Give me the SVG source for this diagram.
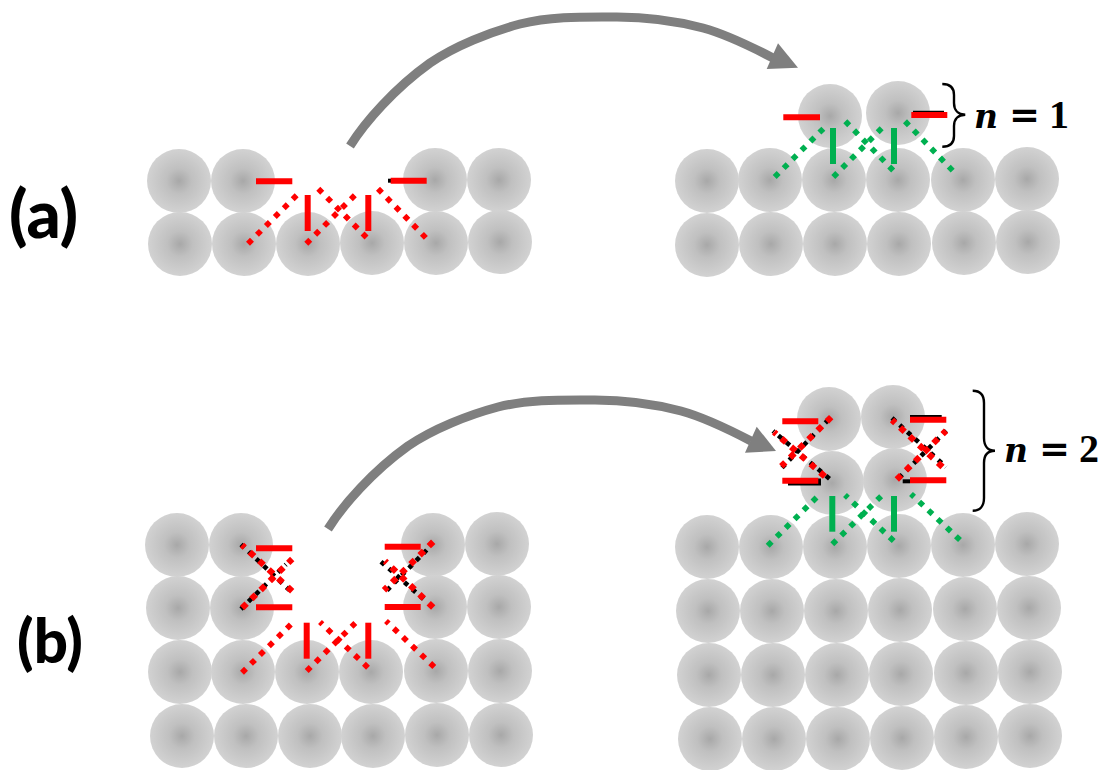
<svg xmlns="http://www.w3.org/2000/svg" width="1105" height="770" viewBox="0 0 1105 770">
  <style>
    .atom { fill: url(#atomShade); }
    .bar-r { stroke: #ff0000; stroke-width: 6; fill: none; }
    .bar-g { stroke: #00b050; stroke-width: 6; fill: none; }
    .bar-k { stroke: #000000; fill: none; }
    .dot-r { stroke: #ff0000; stroke-width: 5.6; stroke-dasharray: 5.6 7; fill: none; }
    .dot-g { stroke: #00b050; stroke-width: 5.6; stroke-dasharray: 5.6 7; fill: none; }
    .dot-x { stroke: #ff0000; stroke-width: 6.2; stroke-dasharray: 6.2 6.7; fill: none; }
    .dot-k { stroke: #000000; stroke-width: 4.6; stroke-dasharray: 4.6 5.8; fill: none; }
    .flow { stroke: #7f7f7f; stroke-width: 9; fill: none; }
    .head { fill: #7f7f7f; }
    .brace { stroke: #000000; stroke-width: 2.4; fill: none; }
    .tag { font-family: "Lato", "Liberation Sans", sans-serif; font-weight: 900; fill: #000000; }
    .math { font-family: "Liberation Serif", "DejaVu Serif", serif; font-weight: 700; font-size: 40px; fill: #000000; }
    .math-n { font-family: "DejaVu Serif", "Liberation Serif", serif; font-style: italic; font-size: 33px; }
    .math-eq { font-family: "DejaVu Serif", "Liberation Serif", serif; font-size: 37px; }
  </style>
  <defs>
    <radialGradient id="atomShade" cx="0.5" cy="0.5" r="0.5">
      <stop offset="0" stop-color="#a8a8a8"/>
      <stop offset="0.4" stop-color="#c0c0c0"/>
      <stop offset="1" stop-color="#d2d2d2"/>
    </radialGradient>
    <path id="arc" class="flow" d="M350 146 C365 122 395 88 430 63 C455 46 490 32 520 24 C552 16 585 17 617 17 C650 17 680 22 703 28 C725 34 750 46 773 58"/>
  </defs>

  <!-- Panel (a), surface with a gap -->
  <g id="surface-a-left">
    <circle class="atom" cx="179" cy="181" r="32"/>
    <circle class="atom" cx="243" cy="181" r="32"/>
    <circle class="atom" cx="435" cy="180" r="32"/>
    <circle class="atom" cx="499" cy="180" r="32"/>
    <circle class="atom" cx="180" cy="244" r="32"/>
    <circle class="atom" cx="244" cy="244" r="32"/>
    <circle class="atom" cx="308" cy="244" r="32"/>
    <circle class="atom" cx="372" cy="243" r="32"/>
    <circle class="atom" cx="436" cy="243" r="32"/>
    <circle class="atom" cx="500" cy="242" r="32"/>
  </g>
  <g id="bonds-a-left">
    <line class="dot-r" x1="248" y1="243.7" x2="297" y2="195"/>
    <line class="dot-r" x1="306.3" y1="243.7" x2="355" y2="195"/>
    <line class="dot-r" x1="318.3" y1="188.7" x2="367" y2="238"/>
    <line class="dot-r" x1="378" y1="188.7" x2="426" y2="238"/>
    <line class="bar-r" x1="256" y1="181.3" x2="292.3" y2="181.3"/>
    <line class="bar-k" stroke-width="4" x1="388" y1="180.7" x2="391" y2="180.7"/>
    <line class="bar-r" x1="390.7" y1="180.7" x2="426.7" y2="180.7"/>
    <line class="bar-r" x1="307.7" y1="195" x2="307.7" y2="231"/>
    <line class="bar-r" x1="368.3" y1="195" x2="368.3" y2="231"/>
  </g>

  <!-- Panel (a), filled layer -->
  <g id="surface-a-right">
    <circle class="atom" cx="830" cy="116" r="32"/>
    <circle class="atom" cx="898" cy="113" r="32"/>
    <circle class="atom" cx="707" cy="181" r="32"/>
    <circle class="atom" cx="770" cy="180" r="32"/>
    <circle class="atom" cx="834" cy="180" r="32"/>
    <circle class="atom" cx="898" cy="180" r="32"/>
    <circle class="atom" cx="963" cy="180" r="32"/>
    <circle class="atom" cx="1027" cy="179" r="32"/>
    <circle class="atom" cx="707" cy="245" r="32"/>
    <circle class="atom" cx="771" cy="244" r="32"/>
    <circle class="atom" cx="835" cy="244" r="32"/>
    <circle class="atom" cx="899" cy="244" r="32"/>
    <circle class="atom" cx="964" cy="243" r="32"/>
    <circle class="atom" cx="1028" cy="242" r="32"/>
  </g>
  <g id="bonds-a-right">
    <line class="dot-g" x1="774.7" y1="177" x2="824" y2="128"/>
    <line class="dot-g" x1="833.3" y1="177" x2="882" y2="128"/>
    <line class="dot-g" x1="845.3" y1="121.3" x2="893.7" y2="171"/>
    <line class="dot-g" x1="905" y1="121.3" x2="953" y2="171"/>
    <line class="bar-g" x1="833" y1="128" x2="833" y2="164"/>
    <line class="bar-g" x1="894" y1="128" x2="894" y2="164"/>
    <line class="bar-r" x1="783.3" y1="117.3" x2="820" y2="117.3"/>
    <line class="bar-k" stroke-width="1.5" x1="913" y1="111.5" x2="944" y2="111.5"/>
    <line class="bar-r" x1="911.3" y1="115" x2="947.3" y2="115"/>
  </g>
  <g id="label-n1">
    <path class="brace" d="M942.3 84 C950 84 954 88 954 95 L954 103 C954 110 958 114.7 965.3 114.7 C958 114.7 954 119 954 126 L954 136 C954 143 950 146.7 942.3 146.7"/>
    <text class="math math-n" x="974" y="128">n</text>
    <text class="math math-eq" x="1009" y="128">=</text>
    <text class="math" x="1049" y="128">1</text>
  </g>

  <!-- Panel (b), surface with a deep gap -->
  <g id="surface-b-left">
    <circle class="atom" cx="177" cy="545" r="32"/>
    <circle class="atom" cx="241" cy="545" r="32"/>
    <circle class="atom" cx="433" cy="545" r="32"/>
    <circle class="atom" cx="497" cy="544" r="32"/>
    <circle class="atom" cx="178" cy="608" r="32"/>
    <circle class="atom" cx="242" cy="608" r="32"/>
    <circle class="atom" cx="435" cy="607" r="32"/>
    <circle class="atom" cx="499" cy="607" r="32"/>
    <circle class="atom" cx="180" cy="672" r="32"/>
    <circle class="atom" cx="243" cy="672" r="32"/>
    <circle class="atom" cx="307" cy="672" r="32"/>
    <circle class="atom" cx="371" cy="672" r="32"/>
    <circle class="atom" cx="436" cy="671" r="32"/>
    <circle class="atom" cx="500" cy="671" r="32"/>
    <circle class="atom" cx="182" cy="736" r="32"/>
    <circle class="atom" cx="246" cy="736" r="32"/>
    <circle class="atom" cx="310" cy="736" r="32"/>
    <circle class="atom" cx="373" cy="736" r="32"/>
    <circle class="atom" cx="437" cy="735" r="32"/>
    <circle class="atom" cx="501" cy="735" r="32"/>
  </g>
  <g id="bonds-b-left">
    <line class="dot-r" x1="242" y1="672.7" x2="291" y2="624.3"/>
    <line class="dot-r" x1="306.7" y1="671" x2="355.3" y2="623"/>
    <line class="dot-r" x1="368" y1="667.7" x2="320" y2="622"/>
    <line class="dot-r" x1="434.3" y1="667" x2="386" y2="621"/>
    <line class="bar-r" x1="306.7" y1="622.7" x2="306.7" y2="658.7"/>
    <line class="bar-r" x1="368.3" y1="622.7" x2="368.3" y2="658.7"/>

    <line class="dot-k" x1="241" y1="609" x2="286" y2="564.5"/>
    <line class="dot-k" x1="241" y1="544.5" x2="292.5" y2="593"/>
    <line class="dot-x" x1="242.2" y1="608" x2="292.2" y2="559"/>
    <line class="dot-x" x1="292.2" y1="591.2" x2="242" y2="545"/>
    <line class="bar-r" x1="256" y1="548.3" x2="292.3" y2="548.3"/>
    <line class="bar-r" x1="256" y1="607.3" x2="292.3" y2="607.3"/>

    <line class="dot-k" x1="426.7" y1="550" x2="383.3" y2="594"/>
    <line class="dot-k" x1="381" y1="561.7" x2="425.7" y2="601"/>
    <line class="dot-x" x1="433.2" y1="541.8" x2="384" y2="590.3"/>
    <line class="dot-x" x1="433.2" y1="607.5" x2="385" y2="561"/>
    <line class="bar-r" x1="384.7" y1="546.7" x2="420.7" y2="546.7"/>
    <line class="bar-r" x1="384.7" y1="607" x2="420.7" y2="607"/>
  </g>

  <!-- Panel (b), two filled layers -->
  <g id="surface-b-right">
    <circle class="atom" cx="829" cy="419" r="32"/>
    <circle class="atom" cx="893" cy="417" r="32"/>
    <circle class="atom" cx="832" cy="483" r="32"/>
    <circle class="atom" cx="895" cy="480" r="32"/>
    <circle class="atom" cx="707" cy="547" r="32"/>
    <circle class="atom" cx="771" cy="547" r="32"/>
    <circle class="atom" cx="835" cy="547" r="32"/>
    <circle class="atom" cx="899" cy="546" r="32"/>
    <circle class="atom" cx="963" cy="545" r="32"/>
    <circle class="atom" cx="1027" cy="544" r="32"/>
    <circle class="atom" cx="708" cy="611" r="32"/>
    <circle class="atom" cx="772" cy="611" r="32"/>
    <circle class="atom" cx="836" cy="611" r="32"/>
    <circle class="atom" cx="900" cy="610" r="32"/>
    <circle class="atom" cx="965" cy="609" r="32"/>
    <circle class="atom" cx="1029" cy="608" r="32"/>
    <circle class="atom" cx="709" cy="675" r="32"/>
    <circle class="atom" cx="773" cy="675" r="32"/>
    <circle class="atom" cx="837" cy="675" r="32"/>
    <circle class="atom" cx="901" cy="674" r="32"/>
    <circle class="atom" cx="966" cy="673" r="32"/>
    <circle class="atom" cx="1030" cy="672" r="32"/>
    <circle class="atom" cx="710" cy="739" r="32"/>
    <circle class="atom" cx="774" cy="739" r="32"/>
    <circle class="atom" cx="838" cy="739" r="32"/>
    <circle class="atom" cx="902" cy="738" r="32"/>
    <circle class="atom" cx="966" cy="737" r="32"/>
    <circle class="atom" cx="1030" cy="736" r="32"/>
  </g>
  <g id="bonds-b-right">
    <line class="dot-g" x1="767.7" y1="545.7" x2="816.7" y2="497.3"/>
    <line class="dot-g" x1="832.3" y1="544.3" x2="881.3" y2="496"/>
    <line class="dot-g" x1="893.7" y1="541" x2="845" y2="495"/>
    <line class="dot-g" x1="960" y1="540" x2="911" y2="494"/>
    <line class="bar-g" x1="832.3" y1="496" x2="832.3" y2="531.7"/>
    <line class="bar-g" x1="894" y1="496" x2="894" y2="531.7"/>

    <line class="dot-k" x1="782" y1="467.7" x2="830" y2="418"/>
    <line class="dot-k" x1="829.5" y1="478.8" x2="773" y2="431"/>
    <line class="dot-x" x1="831.2" y1="417.1" x2="781.3" y2="466.3"/>
    <line class="dot-x" x1="824.9" y1="476.5" x2="774" y2="432"/>
    <line class="bar-r" x1="782.3" y1="421.3" x2="818.3" y2="421.3"/>
    <line class="bar-k" stroke-width="2.5" x1="788" y1="484.2" x2="821" y2="484.2"/>
    <line class="bar-k" stroke-width="6" x1="818" y1="481.5" x2="821" y2="481.5"/>
    <line class="bar-r" x1="782.3" y1="480.7" x2="818.3" y2="480.7"/>

    <line class="dot-k" x1="899" y1="478" x2="948" y2="429"/>
    <line class="dot-k" x1="892" y1="418" x2="946" y2="467"/>
    <line class="dot-x" x1="896.8" y1="479.5" x2="946" y2="430.7"/>
    <line class="dot-x" x1="942.5" y1="466.9" x2="892" y2="420"/>
    <line class="bar-k" stroke-width="2" x1="910" y1="416" x2="941.7" y2="416"/>
    <line class="bar-r" x1="910" y1="419.7" x2="946.3" y2="419.7"/>
    <line class="bar-k" stroke-width="4" x1="902.7" y1="481.3" x2="910" y2="481.3"/>
    <line class="bar-r" x1="910" y1="480.3" x2="946.3" y2="480.3"/>
  </g>
  <g id="label-n2">
    <path class="brace" d="M972.7 390.7 C980 390.7 984 395 984 403 L984 438 C984 446 988 450.7 995 450.7 C988 450.7 984 455 984 463 L984 498 C984 506 980 510.7 972.7 510.7"/>
    <text class="math math-n" x="1004" y="462">n</text>
    <text class="math math-eq" x="1039" y="462">=</text>
    <text class="math" x="1079" y="462">2</text>
  </g>

  <!-- Process arrows between the two states -->
  <g id="connectors">
    <use href="#arc"/>
    <polygon class="head" points="798,67.7 766.7,69 778,43.3"/>
    <use href="#arc" transform="translate(-22 383)"/>
    <polygon class="head" points="776,451 745,452.7 756.7,426.7"/>
  </g>

  <g id="panel-labels">
    <text class="tag" x="9" y="238" font-size="67">(a)</text>
    <text class="tag" x="17" y="663" font-size="60">(b)</text>
  </g>
</svg>
